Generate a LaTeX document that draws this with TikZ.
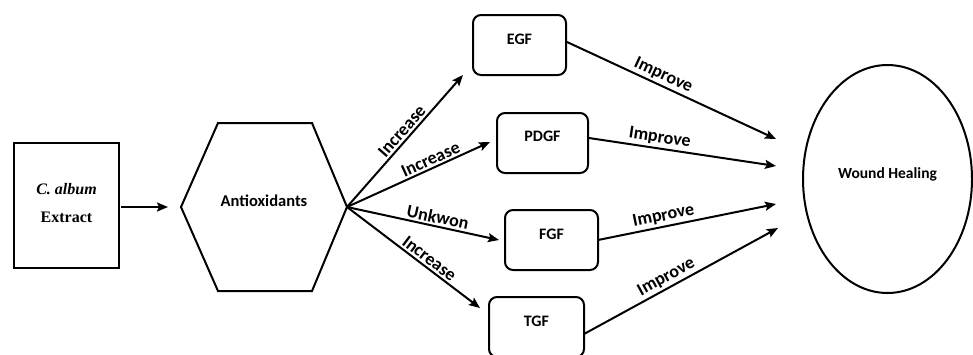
\documentclass[tikz,border=0pt]{standalone}
\usepackage{fontspec}
\setmainfont{Carlito}
\newfontfamily\timesfont{Liberation Serif}
\usetikzlibrary{arrows.meta}
\tikzset{
  ln/.style={line width=2pt},
  arr/.style={line width=2pt,-{Stealth[length=11pt,width=9pt,inset=2pt]}},
  gbox/.style={draw,line width=2pt,rounded corners=8pt,minimum height=60pt,inner sep=0pt},
  txt/.style={font=\fontsize{16}{18}\selectfont\bfseries,inner sep=0pt},
  lbl/.style={font=\fontsize{18}{20}\selectfont\bfseries,inner sep=2pt,sloped,above},
}
\begin{document}
\begin{tikzpicture}[x=1pt,y=-1pt]
\useasboundingbox (0,0) rectangle (973,354);
% Extract box
\node[draw,line width=2pt,minimum width=105pt,minimum height=125pt,inner sep=0pt] (ext) at (66.5,205.5) {};
\node[inner sep=0pt,font=\timesfont\fontsize{16}{18}\selectfont\bfseries\itshape] (ext1) at (66.5,189) {C. album};
\node[inner sep=0pt,font=\timesfont\fontsize{16}{18}\selectfont\bfseries] (ext2) at (66.5,217) {Extract};
% Hexagon
\coordinate (hexL) at (181,207);
\coordinate (hexR) at (347,207);
\draw[ln,line join=miter] (hexL) -- (218,123) -- (312,123) -- (hexR) -- (312,291) -- (218,291) -- cycle;
\node[txt,font=\fontsize{16.5}{19}\selectfont\bfseries] (anti) at (264,201) {Antioxidants};
\coordinate (extR) at (121,207);
\coordinate (hexIn) at (168,207);
\draw[arr] (extR) -- (hexIn);
% Growth factor boxes
\node[gbox,minimum width=93pt] (egf) at (519.5,45) {};
\node[txt] (egft) at (519.5,39) {EGF};
\node[gbox,minimum width=91pt] (pdgf) at (542.5,143) {};
\node[txt] (pdgft) at (542.5,136) {PDGF};
\node[gbox,minimum width=93pt] (fgf) at (551.5,240) {};
\node[txt] (fgft) at (551.5,234) {FGF};
\node[gbox,minimum width=95pt] (tgf) at (536.5,327) {};
\node[txt] (tgft) at (536.5,321) {TGF};
% Wound healing
\draw[line width=2pt] (887.5,179) ellipse [x radius=84.5pt, y radius=114pt];
\node[txt,font=\fontsize{15.5}{18}\selectfont\bfseries] (wh) at (887.5,174) {Wound Healing};
% Arrow targets
\coordinate (eIn) at (463,75);
\coordinate (pIn) at (490,142);
\coordinate (fIn) at (499,240);
\coordinate (tIn) at (480,308);
\draw[arr] (hexR) -- node[lbl,pos=0.53] {Increase} (eIn);
\draw[arr] (hexR) -- node[lbl,pos=0.61] {Increase} (pIn);
\draw[arr] (hexR) -- node[lbl,pos=0.585] {Unkwon} (fIn);
\draw[arr] (hexR) -- node[lbl,pos=0.58] {Increase} (tIn);
% Improve arrows
\coordinate (eOut) at (567,42);
\coordinate (pOut) at (589,138);
\coordinate (fOut) at (598,240);
\coordinate (tOut) at (584,334);
\coordinate (w1) at (776,139);
\coordinate (w2) at (776,166);
\coordinate (w3) at (776,204);
\coordinate (w4) at (778,228);
\draw[arr] (eOut) -- node[lbl,pos=0.44] {Improve} (w1);
\draw[arr] (pOut) -- node[lbl,pos=0.37] {Improve} (w2);
\draw[arr] (fOut) -- node[lbl,pos=0.38] {Improve} (w3);
\draw[arr] (tOut) -- node[lbl,pos=0.45] {Improve} (w4);
\end{tikzpicture}
\end{document}
